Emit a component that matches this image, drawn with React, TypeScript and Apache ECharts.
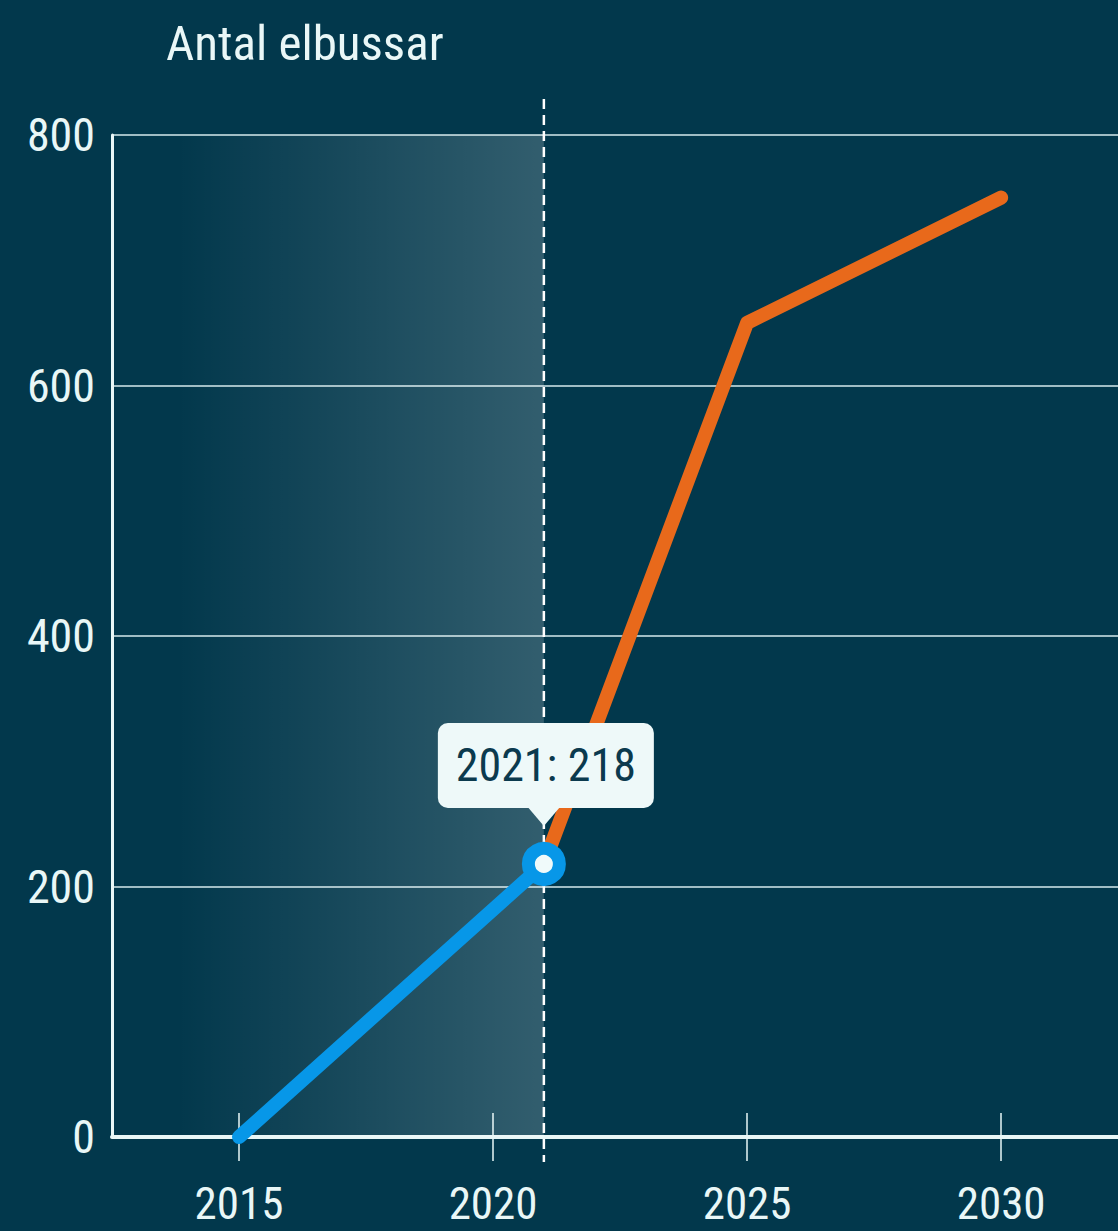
import React, { useEffect, useRef } from "react";
import * as echarts from "echarts";

const yAxisTitle = "Antal elbussar";
const xTickYears = [2015, 2020, 2025, 2030];
const yTicks = [0, 200, 400, 600, 800];
const historyYears = [2015, 2021];
const historyValues = [0, 218];
const forecastYears = [2021, 2025, 2030];
const forecastValues = [218, 650, 750];
const markerYear = 2021;
const markerValue = 218;
const xMin = 2012.5;
const xMax = 2032.3;

const BG = "#02384c";
const TEXT = "#e9f7f7";
const FONT = "'Roboto Condensed', 'Liberation Sans Narrow', 'DejaVu Sans Condensed', 'Liberation Sans', sans-serif";

export default function App() {
  const ref = useRef<HTMLDivElement>(null);
  useEffect(() => {
    if (!ref.current) return;
    const chart = echarts.init(ref.current, undefined, { renderer: "svg" });
    const historyData = historyYears.map((y, i) =>
      y === markerYear
        ? { value: [y, historyValues[i]], symbol: "circle", symbolSize: 31 }
        : { value: [y, historyValues[i]] }
    );
    const forecastData = forecastYears.map((y, i) => [y, forecastValues[i]]);
    chart.setOption({
      animation: false,
      backgroundColor: BG,
      textStyle: { fontFamily: FONT },
      graphic: [
        {
          type: "text",
          left: 166,
          top: 19,
          style: { text: yAxisTitle, fill: TEXT, font: `49px ${FONT}` },
        },
      ],
      grid: { left: 112, right: 0, top: 135, bottom: 94 },
      xAxis: [
        {
          type: "value",
          min: xMin,
          max: xMax,
          axisLine: { show: true, lineStyle: { color: TEXT, width: 4 } },
          axisTick: {
            show: true,
            inside: true,
            length: 24,
            customValues: xTickYears,
            lineStyle: { color: TEXT, width: 1.5 },
          },
          axisLabel: {
            show: true,
            customValues: xTickYears,
            color: TEXT,
            fontSize: 45,
            lineHeight: 34,
            fontFamily: FONT,
            margin: 49,
            formatter: (v: number) => String(v),
          },
          splitLine: { show: false },
        },
        {
          type: "value",
          min: xMin,
          max: xMax,
          position: "bottom",
          axisLine: { show: false },
          axisTick: {
            show: true,
            inside: false,
            length: 24,
            customValues: xTickYears,
            lineStyle: { color: TEXT, width: 1.5 },
          },
          axisLabel: { show: false },
          splitLine: { show: false },
        },
      ],
      yAxis: {
        type: "value",
        min: yTicks[0],
        max: yTicks[yTicks.length - 1],
        interval: 200,
        axisLine: { show: true, lineStyle: { color: TEXT, width: 3 } },
        axisTick: { show: false },
        axisLabel: { color: TEXT, fontSize: 46, fontFamily: FONT, margin: 17 },
        splitLine: { show: true, lineStyle: { color: "#d6eaec", width: 1.5 } },
      },
      series: [
        {
          type: "line",
          name: "prognos",
          data: forecastData,
          symbol: "none",
          z: 3,
          lineStyle: { color: "#e8691b", width: 14, cap: "round", join: "round" },
        },
        {
          type: "custom",
          name: "divider",
          data: [[markerYear, 0]],
          clip: false,
          z: 4,
          renderItem: (params: any, api: any) => {
            const top = api.coord([api.value(0), yTicks[yTicks.length - 1]]);
            const bottom = api.coord([api.value(0), 0]);
            return {
              type: "line",
              shape: { x1: top[0], y1: top[1] - 36, x2: bottom[0], y2: bottom[1] + 25 },
              style: { stroke: "#ffffff", lineWidth: 2.5, lineDash: [10, 6] },
            };
          },
        },
        {
          type: "line",
          name: "historik",
          data: historyData,
          symbol: "none",
          showSymbol: true,
          z: 5,
          itemStyle: { color: "#f0fafa", borderColor: "#0797e8", borderWidth: 13 },
          lineStyle: { color: "#0797e8", width: 14, cap: "round", join: "round" },
          markArea: {
            silent: true,
            z: 1,
            itemStyle: {
              color: {
                type: "linear",
                x: 0,
                y: 0,
                x2: 1,
                y2: 0,
                colorStops: [
                  { offset: 0, color: "rgba(255,255,255,0)" },
                  { offset: 0.15, color: "rgba(255,255,255,0)" },
                  { offset: 1, color: "rgba(255,255,255,0.19)" },
                ],
              },
            },
            data: [[{ xAxis: xMin, yAxis: yTicks[yTicks.length - 1] }, { xAxis: markerYear, yAxis: 0 }]],
          },
        },
        {
          type: "custom",
          name: "callout",
          data: [[markerYear, markerValue]],
          clip: false,
          z: 10,
          renderItem: (params: any, api: any) => {
            const p = api.coord([api.value(0), api.value(1)]);
            const w = 216;
            const h = 85;
            const bottom = p[1] - 56;
            const cx = p[0] + 2;
            return {
              type: "group",
              children: [
                {
                  type: "polygon",
                  shape: { points: [[p[0] - 17, bottom - 2], [p[0] + 17, bottom - 2], [p[0], bottom + 18]] },
                  style: { fill: "#eef9f9" },
                },
                {
                  type: "rect",
                  shape: { x: cx - w / 2, y: bottom - h, width: w, height: h, r: 10 },
                  style: { fill: "#eef9f9" },
                },
                {
                  type: "text",
                  x: cx,
                  y: bottom - h / 2,
                  style: {
                    text: `${api.value(0)}: ${api.value(1)}`,
                    fill: "#0b3a4e",
                    font: `46px ${FONT}`,
                    align: "center",
                    verticalAlign: "middle",
                  },
                },
              ],
            };
          },
        },
      ],
    });
    return () => chart.dispose();
  }, []);
  return <div ref={ref} style={{ position: "fixed", left: 0, top: 0, width: 1118, height: 1231 }} />;
}
